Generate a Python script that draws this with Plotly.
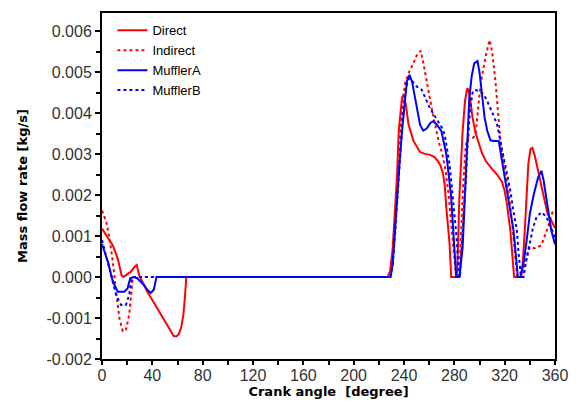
import plotly.graph_objects as go

# Crank angle [degree] and mass flow rate [kg/s] for each configuration
direct_deg = [0, 4.7, 8.6, 12.5, 15.6, 17, 20, 23, 26, 27.6, 29.5, 33, 36, 40, 43.8, 48, 51.6, 55, 57, 59, 61, 63,
              64.7, 66, 67, 227, 229, 231, 233, 234.5, 235.8, 238.4, 239.7, 241.5, 243.6, 247.5, 252.7, 256, 260.6,
              264, 267, 269, 271, 272.5, 273.6, 275, 276.2, 277.5, 282, 283, 284, 286.6, 288.5, 289.8, 290.5, 292,
              294.5, 297, 299.7, 302, 305, 310, 314, 318, 320, 321.8, 324.5, 326.5, 327.5, 333, 334.5, 336, 337.5,
              338.8, 340.5, 342, 344, 346.6, 349, 351.9, 354, 357, 360]
direct_val = [0.00118, 0.00094, 0.00077, 0.00045, 0.00004, 0.0, 0.00006, 0.00013, 0.00025, 0.00029, 0.00005,
              -0.00018, -0.00036, -0.00056, -0.00076, -0.00097, -0.00117, -0.00136, -0.00144, -0.00145, -0.00140,
              -0.00122, -0.00092, -0.00045, 0.0, 0.0, 0.00015, 0.00070, 0.00170, 0.00250, 0.00356, 0.00437,
              0.00445, 0.00420, 0.00372, 0.00332, 0.00305, 0.00301, 0.00298, 0.00293, 0.00283, 0.00272, 0.00252,
              0.00220, 0.00170, 0.00120, 0.00082, 0.0, 0.0, 0.00080, 0.00194, 0.00356, 0.00430, 0.00453, 0.00461,
              0.00445, 0.00388, 0.00350, 0.00324, 0.00302, 0.00283, 0.00263, 0.00250, 0.00231, 0.00210, 0.00178,
              0.00114, 0.00033, 0.0, 0.0, 0.00040, 0.00114, 0.00200, 0.00275, 0.00312, 0.00315, 0.00295, 0.00259,
              0.00220, 0.00178, 0.00155, 0.00138, 0.00120]

indirect_deg = [0, 3.4, 6, 8.6, 11.2, 13.8, 16.4, 19, 21.6, 23.7, 24.5, 229, 231, 233, 235, 237, 239, 241, 244,
                247.5, 250, 253.3, 255.5, 258, 262, 265.8, 268, 270.5, 273, 275.5, 278, 280, 281.4, 283.5, 285,
                287, 289, 291, 295, 297, 299.7, 302, 305, 308, 310, 312.7, 315.3, 317, 320, 323, 326, 328.5, 330,
                334, 336, 340, 344, 349, 352, 354.5, 358.4, 360]
indirect_val = [0.00162, 0.00134, 0.00094, 0.00037, -0.00036, -0.00100, -0.00132, -0.00130, -0.00092, -0.00036,
                0.0, 0.0, 0.00040, 0.00130, 0.00250, 0.00360, 0.00430, 0.00475, 0.00500, 0.00521, 0.00540,
                0.00552, 0.00520, 0.00477, 0.00412, 0.00356, 0.00325, 0.00300, 0.00260, 0.00200, 0.00120,
                0.00050, 0.0, 0.0, 0.00080, 0.00220, 0.00320, 0.00340, 0.00340, 0.00350, 0.00437, 0.00490,
                0.00540, 0.00578, 0.00550, 0.00477, 0.00372, 0.00320, 0.00270, 0.00210, 0.00130, 0.00050, 0.0,
                0.0, 0.00030, 0.00073, 0.00070, 0.00077, 0.00100, 0.00122, 0.00162, 0.00162]

muffler_a_deg = [0, 4.7, 8.6, 12.5, 17.7, 20.3, 22.4, 25, 28, 30.8, 33.5, 36, 38.6, 41.2, 43.3, 229.3, 231, 233,
                 234.5, 236.5, 238.4, 240.5, 242.3, 244.4, 246.5, 248.8, 250.8, 252.7, 255.3, 258, 261, 263.2,
                 266, 269.7, 271.5, 273.6, 275.5, 277.5, 279, 280, 281.5, 284, 286.6, 288, 289.3, 291.9, 293.8,
                 295.8, 298.4, 300, 302.3, 304, 306.2, 308.8, 312, 315.3, 317, 319.2, 321, 323.2, 325, 327, 329,
                 330.5, 332.5, 335, 337.5, 340, 343, 346.6, 349.2, 351, 353, 355, 357, 360]
muffler_a_val = [0.00080, 0.00037, -0.00011, -0.00036, -0.00036, -0.00028, -0.00003, 0.0, -0.00003, -0.00011,
                 -0.00020, -0.00031, -0.00039, -0.00031, 0.0, 0.0, 0.00030, 0.00120, 0.00194, 0.00280, 0.00356,
                 0.00430, 0.00477, 0.00493, 0.00475, 0.00437, 0.00400, 0.00372, 0.00357, 0.00362, 0.00376,
                 0.00380, 0.00372, 0.00356, 0.00330, 0.00300, 0.00250, 0.00194, 0.00120, 0.00073, 0.0, 0.0,
                 0.00073, 0.00170, 0.00275, 0.00437, 0.00490, 0.00521, 0.00527, 0.00500, 0.00437, 0.00390,
                 0.00356, 0.00333, 0.00332, 0.00332, 0.00300, 0.00259, 0.00230, 0.00194, 0.00160, 0.00114,
                 0.00050, 0.0, 0.0, 0.00033, 0.00090, 0.00154, 0.00200, 0.00243, 0.00259, 0.00235, 0.00194,
                 0.00150, 0.00114, 0.00080]

muffler_b_deg = [0, 3.4, 7.3, 11.2, 15.1, 19, 21.6, 23, 24, 229.5, 231, 233, 235, 237, 239, 241, 243, 244.5, 247,
                 250, 254, 257, 260.6, 264, 267, 270, 272.3, 274, 276.2, 278, 280, 282, 283, 284.5, 285, 287, 289,
                 290.5, 292.5, 294.5, 296.6, 300, 303.6, 306, 308.8, 311, 314, 316.5, 319.2, 322, 324.5, 327,
                 329.7, 331, 332, 333, 335, 336.5, 338, 340, 342.5, 345.3, 349.2, 352, 354.5, 357, 360]
muffler_b_val = [0.00090, 0.00053, 0.00004, -0.00044, -0.00068, -0.00068, -0.00044, -0.00011, 0.0, 0.0, 0.00030,
                 0.00110, 0.00200, 0.00300, 0.00390, 0.00450, 0.00480, 0.00485, 0.00475, 0.00465, 0.00457,
                 0.00435, 0.00412, 0.00395, 0.00380, 0.00365, 0.00348, 0.00320, 0.00275, 0.00220, 0.00154,
                 0.00090, 0.00030, 0.0, 0.00030, 0.00120, 0.00230, 0.00320, 0.00410, 0.00450, 0.00457, 0.00452,
                 0.00445, 0.00430, 0.00412, 0.00395, 0.00372, 0.00330, 0.00291, 0.00250, 0.00210, 0.00160,
                 0.00114, 0.00060, 0.00020, 0.0, 0.0, 0.00030, 0.00055, 0.00082, 0.00120, 0.00146, 0.00158,
                 0.00150, 0.00138, 0.00120, 0.00095]

x_ticks = [0, 40, 80, 120, 160, 200, 240, 280, 320, 360]
y_ticks = [-0.002, -0.001, 0.0, 0.001, 0.002, 0.003, 0.004, 0.005, 0.006]
y_tick_text = ["-0.002", "-0.001", "0.000", "0.001", "0.002", "0.003", "0.004", "0.005", "0.006"]

series = [
    ("Direct", direct_deg, direct_val, "#ff0000", "solid"),
    ("Indirect", indirect_deg, indirect_val, "#ff0000", "3px,3px"),
    ("MufflerA", muffler_a_deg, muffler_a_val, "#0000ff", "solid"),
    ("MufflerB", muffler_b_deg, muffler_b_val, "#0000ff", "3px,3px"),
]

fig = go.Figure()
for i, (name, xs, ys, color, dash) in enumerate(series):
    fig.add_trace(go.Scatter(
        x=xs, y=ys, mode="lines", name=name, legendgroup=f"g{i}",
        line=dict(color=color, width=2, dash=dash),
    ))

tick_font = dict(family="Liberation Sans, Arial, sans-serif", size=16, color="#333333")
title_font = dict(family="DejaVu Sans, Verdana, sans-serif", size=13, color="#000000", weight="bold")

fig.update_layout(
    width=579, height=405,
    margin=dict(l=102, r=17, t=11, b=46),
    paper_bgcolor="white", plot_bgcolor="white",
    showlegend=True,
    legend=dict(
        x=0.023, y=0.993, xanchor="left", yanchor="top",
        bgcolor="rgba(0,0,0,0)", borderwidth=0,
        font=dict(family="Liberation Sans, Arial, sans-serif", size=13, color="#000000"),
        tracegroupgap=0, itemwidth=30,
    ),
    xaxis=dict(
        range=[0, 360], tickmode="array", tickvals=x_ticks,
        ticks="outside", ticklen=4, tickwidth=1.5, tickcolor="black",
        minor=dict(ticks="outside", dtick=20, tick0=0, ticklen=4, tickwidth=1.5, tickcolor="black", showgrid=False),
        showline=True, linecolor="black", linewidth=2, mirror=True,
        showgrid=False, zeroline=False, tickfont=tick_font, ticklabelstandoff=-3,
        title=dict(text="Crank angle  [degree]", font=title_font, standoff=0),
    ),
    yaxis=dict(
        range=[-0.002, 0.00644], tickmode="array", tickvals=y_ticks, ticktext=y_tick_text,
        ticks="outside", ticklen=5, tickwidth=1.5, tickcolor="black",
        minor=dict(ticks="outside", dtick=0.0005, tick0=0, ticklen=4, tickwidth=1.5, tickcolor="black", showgrid=False),
        showline=True, linecolor="black", linewidth=2, mirror=True,
        showgrid=False, zeroline=False, tickfont=tick_font,
        title=dict(text="Mass flow rate [kg/s]", font=title_font, standoff=16),
    ),
)

fig.write_html("out.html")
